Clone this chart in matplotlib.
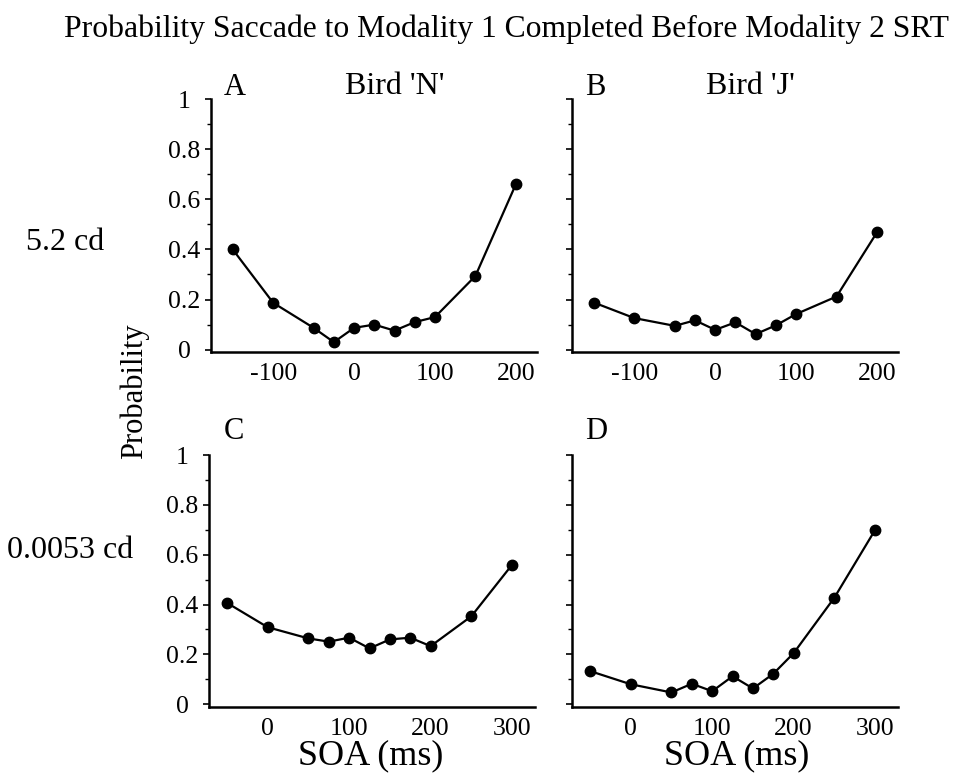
import matplotlib
matplotlib.use("Agg")
import matplotlib.pyplot as plt
from matplotlib.ticker import MultipleLocator

plt.rcParams['font.family'] = ['Liberation Serif', 'DejaVu Serif']

# Data
soa_top = [-150, -100, -50, -25, 0, 25, 50, 75, 100, 150, 200]
prob_a = [0.40, 0.187, 0.087, 0.03, 0.087, 0.10, 0.076, 0.11, 0.13, 0.294, 0.66]
prob_b = [0.188, 0.126, 0.095, 0.117, 0.079, 0.109, 0.062, 0.097, 0.142, 0.212, 0.468]

soa_bottom = [-50, 0, 50, 75, 100, 125, 150, 175, 200, 250, 300]
prob_c = [0.407, 0.309, 0.264, 0.251, 0.267, 0.224, 0.26, 0.267, 0.233, 0.353, 0.56]
prob_d = [0.133, 0.08, 0.047, 0.082, 0.052, 0.112, 0.063, 0.122, 0.205, 0.428, 0.70]

top_ticks = [-100, 0, 100, 200]
bottom_ticks = [0, 100, 200, 300]
y_ticks = [0, 0.2, 0.4, 0.6, 0.8, 1]
y_labels = ["0", "0.2", "0.4", "0.6", "0.8", "1"]

W, H = 963, 774
fig = plt.figure(figsize=(W / 100, H / 100), dpi=100)

panels = [
    ("A", [0.219, 0.545, 0.3385, 0.327], soa_top, prob_a, top_ticks, (-177, 226), True),
    ("B", [0.594, 0.545, 0.3385, 0.327], soa_top, prob_b, top_ticks, (-177, 226), False),
    ("C", [0.217, 0.087, 0.3385, 0.325], soa_bottom, prob_c, bottom_ticks, (-72, 328), True),
    ("D", [0.594, 0.087, 0.3385, 0.325], soa_bottom, prob_d, bottom_ticks, (-72, 328), False),
]

for name, rect, x, y, xt, xl, show_y in panels:
    ax = fig.add_axes(rect)
    ax.plot(x, y, color="black", linewidth=1.6, marker="o", markersize=7.5)
    ax.set_xlim(*xl)
    ax.set_ylim(-0.01, 1.0)
    ax.set_xticks(xt)
    ax.set_xticklabels([str(t) for t in xt])
    ax.set_yticks(y_ticks)
    if show_y:
        ax.set_yticklabels(y_labels, ha="center")
    else:
        ax.set_yticklabels([])
    ax.yaxis.set_minor_locator(MultipleLocator(0.1))
    for s in ["top", "right"]:
        ax.spines[s].set_visible(False)
    ax.spines["left"].set_linewidth(1.8)
    ax.spines["bottom"].set_linewidth(1.8)
    ax.tick_params(axis="y", which="major", length=4, width=1.2, pad=15, labelsize=18.5)
    ax.tick_params(axis="y", which="minor", length=3, width=1.0)
    ax.tick_params(axis="x", length=0, pad=8, labelsize=18.5)

def put(px, py, s, size, va="center", **kw):
    fig.text(px / W, 1 - py / H, s, ha="center", va=va, fontsize=size, **kw)

put(507, 37, "Probability Saccade to Modality 1 Completed Before Modality 2 SRT", 22.8, va="baseline")

put(235, 95, "A", 22, va="baseline")
put(395, 94, "Bird 'N'", 23, va="baseline")
put(595, 95, "B", 22, va="baseline")
put(750, 94, "Bird 'J'", 23, va="baseline")
put(234, 439, "C", 22, va="baseline")
put(596, 439, "D", 22, va="baseline")

put(65, 243, "5.2 cd", 23)
put(70, 550, "0.0053 cd", 23)
put(134, 391, "Probability", 22, rotation=90)

put(371, 756, "SOA (ms)", 26)
put(737, 756, "SOA (ms)", 26)

fig.savefig("out.png", dpi=100)
